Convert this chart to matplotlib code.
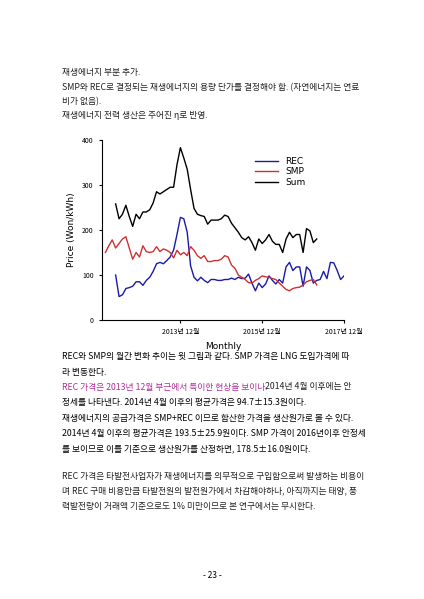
import matplotlib
matplotlib.use("Agg")
import matplotlib.pyplot as plt

plt.rcParams['font.family'] = ['Noto Sans CJK KR', 'DejaVu Sans']

# month index: 0 = 2012-01
smp_start = 1
smp = [150, 165, 178, 160, 170, 180, 185, 160, 135, 150, 140, 165, 152, 150, 152, 163,
       152, 158, 155, 150, 138, 155, 145, 150, 143, 163, 155, 143, 137, 143, 130, 130,
       132, 132, 135, 143, 140, 122, 115, 100, 95, 90, 83, 82, 88, 92, 98, 96, 95, 92,
       90, 82, 75, 68, 65, 70, 72, 73, 78, 85, 88, 90, 78]
rec_start = 4
rec = [100, 52, 56, 70, 72, 75, 85, 85, 77, 88, 95, 108, 125, 128, 125, 132, 140, 155,
       190, 228, 225, 195, 120, 95, 87, 95, 88, 83, 90, 90, 88, 88, 90, 90, 93, 90, 95,
       92, 93, 102, 82, 65, 82, 72, 80, 98, 88, 80, 90, 82, 118, 128, 110, 118, 118, 75,
       118, 110, 82, 88, 90, 108, 92, 128, 127, 110, 90, 98]
sum_start = 4
total = [258, 225, 235, 255, 230, 208, 235, 225, 240, 240, 245, 260, 285, 280, 285, 290,
         295, 295, 345, 383, 360, 335, 290, 248, 235, 232, 230, 213, 222, 222, 222, 225,
         233, 230, 215, 205, 195, 183, 178, 185, 172, 155, 180, 170, 178, 190, 175, 168,
         168, 150, 180, 195, 183, 190, 190, 150, 203, 198, 172, 180]
tick_pos = [23, 47, 71]
tick_labels = ['2013년 12월', '2015년 12월', '2017년 12월']

top_lines = ['재생에너지 부분 추가.',
             'SMP와 REC로 결정되는 재생에너지의 용량 단가를 결정해야 함. (자연에너지는 연료',
             '비가 없음).',
             '재생에너지 전력 생산은 주어진 η로 반영.']
body_lines = [('REC와 SMP의 월간 변화 추이는 윗 그림과 같다. SMP 가격은 LNG 도입가격에 따', 'k'),
              ('라 변동한다.', 'k'),
              ('REC 가격은 2013년 12월 부근에서 특이한 현상을 보이나.', '#b0309a'),
              ('정세를 나타낸다. 2014년 4월 이후의 평균가격은 94.7±15.3원이다.', 'k'),
              ('재생에너지의 공급가격은 SMP+REC 이므로 합산한 가격을 생산원가로 볼 수 있다.', 'k'),
              ('2014년 4월 이후의 평균가격은 193.5±25.9원이다. SMP 가격이 2016년이후 안정세', 'k'),
              ('를 보이므로 이를 기준으로 생산원가를 산정하면, 178.5±16.0원이다.', 'k')]
tail_lines = ['REC 가격은 타발전사업자가 재생에너지를 의무적으로 구입함으로써 발생하는 비용이',
              '며 REC 구매 비용만큼 타발전원의 발전원가에서 차감해야하나, 아직까지는 태양, 풍',
              '력발전량이 거래액 기준으로도 1% 미만이므로 본 연구에서는 무시한다.']

W, H = 424, 599
fig = plt.figure(figsize=(W / 100, H / 100), dpi=100)

def put(x, y, s, color='#222222', size=6.3):
    fig.text(x / W, 1 - y / H, s, color=color, fontsize=size, va='center', ha='left')

for i, s in enumerate(top_lines):
    put(62, 73 + i * 14.2, s)
for i, (s, c) in enumerate(body_lines):
    put(62, 357 + i * 15.3, s, c)
put(265, 387, '2014년 4월 이후에는 안')
for i, s in enumerate(tail_lines):
    put(62, 476 + i * 15.3, s)
fig.text(0.5, 1 - 575 / H, '- 23 -', fontsize=6, ha='center', va='center')

ax = fig.add_axes([102 / W, 1 - 320 / H, 242 / W, 180 / H])
ax.plot(range(rec_start, rec_start + len(rec)), rec, color='#1a1aa8', lw=1.0, label='REC')
ax.plot(range(smp_start, smp_start + len(smp)), smp, color='#d03030', lw=1.0, label='SMP')
ax.plot(range(sum_start, sum_start + len(total)), total, color='k', lw=1.0, label='Sum')
ax.set_xlim(0, 71)
ax.set_ylim(0, 400)
ax.set_xticks(tick_pos)
ax.set_xticklabels(tick_labels, fontsize=5)
ax.set_yticks([0, 100, 200, 300, 400])
ax.tick_params(labelsize=5, length=2.5)
ax.set_ylabel('Price (Won/kWh)', fontsize=6.5, family='DejaVu Sans')
ax.set_xlabel('Monthly', fontsize=6.5, family='DejaVu Sans')
for s in ['top', 'right']:
    ax.spines[s].set_visible(False)
ax.legend(loc='upper left', bbox_to_anchor=(0.6, 0.95), frameon=False,
          handlelength=2.5, labelspacing=0.15, prop={'family': 'DejaVu Sans', 'size': 6.5})

fig.savefig('out.png', dpi=100, facecolor='white')
